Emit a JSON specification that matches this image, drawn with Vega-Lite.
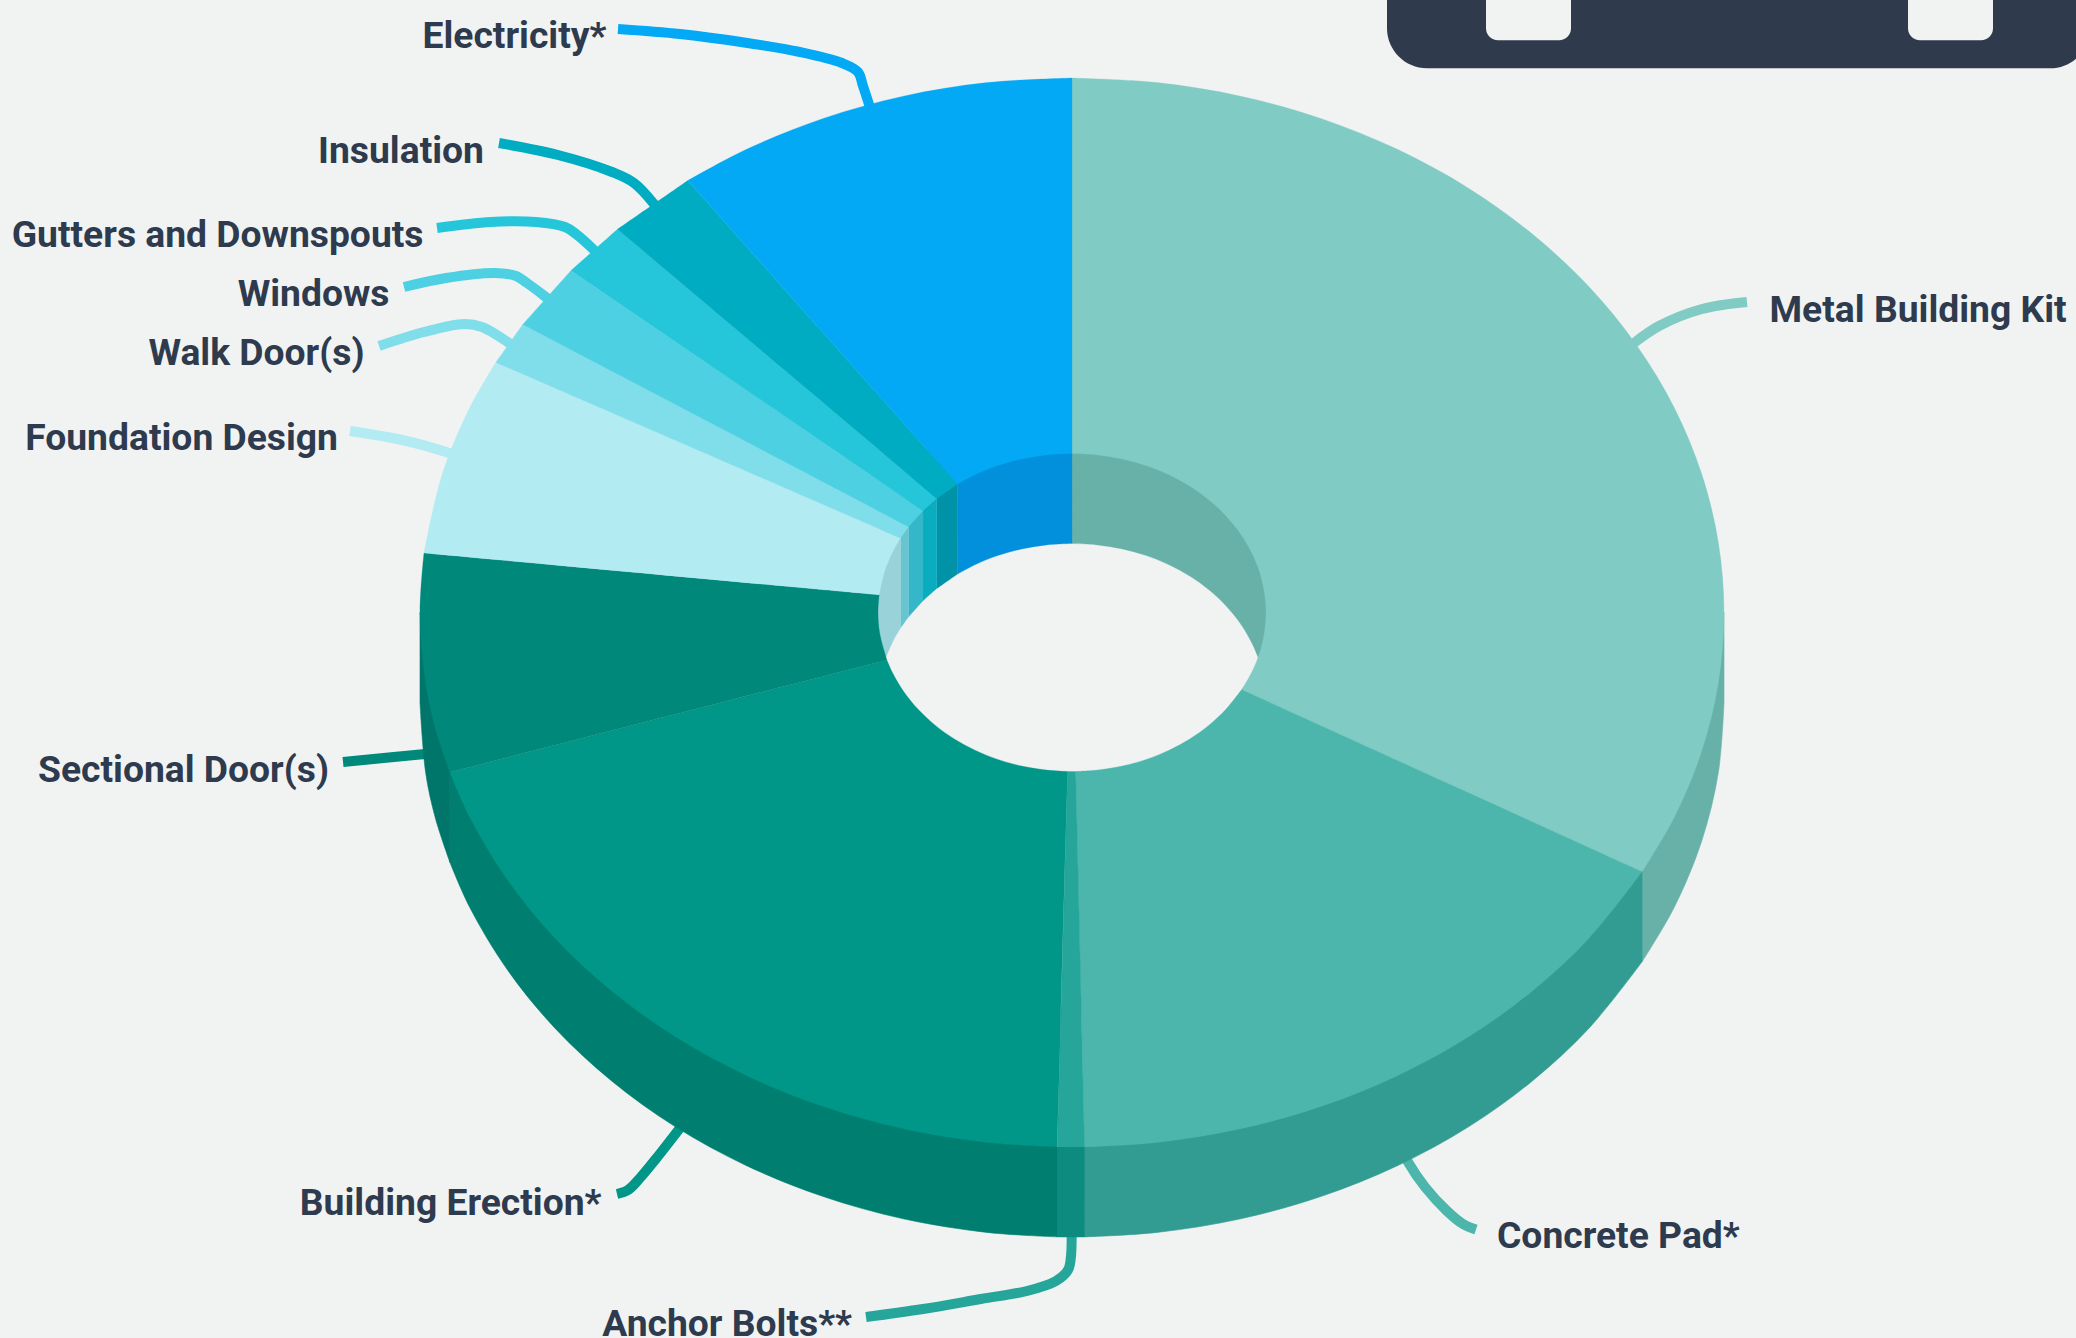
{"$schema":"https://vega.github.io/schema/vega-lite/v6.json","width":2076,"height":1338,"padding":0,"autosize":{"type":"none"},"background":"#f1f3f2","view":{"stroke":null},"config":{"view":{"stroke":null}},
"encoding":{"x":{"field":"x","type":"quantitative","axis":null,"scale":{"domain":[0,2076],"nice":false,"zero":false}},"y":{"field":"y","type":"quantitative","axis":null,"scale":{"domain":[0,1338],"reverse":true,"nice":false,"zero":false}}},
"resolve":{"scale":{"fill":"independent","stroke":"independent"}},
"layer":[
{"data":{"values":[{"part":"panel","x":1387,"x2":2090,"y":-60,"y2":68.3}]},"mark":{"type":"rect","clip":true,"color":"#2f3b4d","cornerRadiusBottomLeft":40,"cornerRadiusBottomRight":40},"encoding":{"x2":{"field":"x2"},"y2":{"field":"y2"}}},
{"data":{"values":[{"part":"tab","x":1486,"x2":1571,"y":-40,"y2":40.3},{"part":"tab","x":1908,"x2":1993,"y":-40,"y2":40.3}]},"mark":{"type":"rect","clip":true,"color":"#f1f3f2","cornerRadiusBottomLeft":12,"cornerRadiusBottomRight":12},"encoding":{"x2":{"field":"x2"},"y2":{"field":"y2"}}},
{"data":{"values":[
{"s":"Metal Building Kit","i":1,"x":1747,"y":302},{"s":"Metal Building Kit","i":2,"x":1702,"y":309},{"s":"Metal Building Kit","i":3,"x":1659,"y":326},{"s":"Metal Building Kit","i":4,"x":1634,"y":343},{"s":"Metal Building Kit","i":5,"x":1605,"y":368},
{"s":"Electricity*","i":1,"x":618,"y":29},{"s":"Electricity*","i":2,"x":680,"y":34},{"s":"Electricity*","i":3,"x":741,"y":42},{"s":"Electricity*","i":4,"x":800,"y":52},{"s":"Electricity*","i":5,"x":842,"y":63},{"s":"Electricity*","i":6,"x":858,"y":72},{"s":"Electricity*","i":7,"x":863,"y":86},{"s":"Electricity*","i":8,"x":874,"y":120},
{"s":"Insulation","i":1,"x":499,"y":143},{"s":"Insulation","i":2,"x":558,"y":155},{"s":"Insulation","i":3,"x":612,"y":172},{"s":"Insulation","i":4,"x":634,"y":183},{"s":"Insulation","i":5,"x":654,"y":204},{"s":"Insulation","i":6,"x":672,"y":230},
{"s":"Gutters and Downspouts","i":1,"x":437,"y":228},{"s":"Gutters and Downspouts","i":2,"x":491,"y":222},{"s":"Gutters and Downspouts","i":3,"x":536,"y":222},{"s":"Gutters and Downspouts","i":4,"x":565,"y":227},{"s":"Gutters and Downspouts","i":5,"x":576,"y":234},{"s":"Gutters and Downspouts","i":6,"x":594,"y":250},{"s":"Gutters and Downspouts","i":7,"x":615,"y":272},
{"s":"Windows","i":1,"x":404,"y":287},{"s":"Windows","i":2,"x":446,"y":278},{"s":"Windows","i":3,"x":495,"y":273},{"s":"Windows","i":4,"x":516,"y":276},{"s":"Windows","i":5,"x":527,"y":283},{"s":"Windows","i":6,"x":547,"y":298},{"s":"Windows","i":7,"x":570,"y":318},
{"s":"Walk Door(s)","i":1,"x":379,"y":346},{"s":"Walk Door(s)","i":2,"x":424,"y":332},{"s":"Walk Door(s)","i":3,"x":464,"y":324},{"s":"Walk Door(s)","i":4,"x":482,"y":327},{"s":"Walk Door(s)","i":5,"x":509,"y":343},{"s":"Walk Door(s)","i":6,"x":535,"y":362},
{"s":"Foundation Design","i":1,"x":350,"y":431},{"s":"Foundation Design","i":2,"x":402,"y":440},{"s":"Foundation Design","i":3,"x":449,"y":453},{"s":"Foundation Design","i":4,"x":490,"y":470},
{"s":"Sectional Door(s)","i":1,"x":343,"y":762},{"s":"Sectional Door(s)","i":2,"x":425,"y":754},{"s":"Sectional Door(s)","i":3,"x":470,"y":750},
{"s":"Building Erection*","i":1,"x":617,"y":1194},{"s":"Building Erection*","i":2,"x":628,"y":1190},{"s":"Building Erection*","i":3,"x":640,"y":1178},{"s":"Building Erection*","i":4,"x":655,"y":1160},{"s":"Building Erection*","i":5,"x":680,"y":1128},{"s":"Building Erection*","i":6,"x":705,"y":1095},
{"s":"Concrete Pad*","i":1,"x":1476,"y":1229.5},{"s":"Concrete Pad*","i":2,"x":1463,"y":1224},{"s":"Concrete Pad*","i":3,"x":1447,"y":1211},{"s":"Concrete Pad*","i":4,"x":1425,"y":1187},{"s":"Concrete Pad*","i":5,"x":1408,"y":1162},{"s":"Concrete Pad*","i":6,"x":1390,"y":1125},
{"s":"Anchor Bolts**","i":1,"x":866,"y":1317},{"s":"Anchor Bolts**","i":2,"x":923,"y":1309},{"s":"Anchor Bolts**","i":3,"x":981,"y":1299},{"s":"Anchor Bolts**","i":4,"x":1027,"y":1291},{"s":"Anchor Bolts**","i":5,"x":1056,"y":1281},{"s":"Anchor Bolts**","i":6,"x":1068,"y":1270},{"s":"Anchor Bolts**","i":7,"x":1071,"y":1256},{"s":"Anchor Bolts**","i":8,"x":1071,"y":1200}
]},"mark":{"type":"line","interpolate":"catmull-rom","strokeWidth":10,"strokeCap":"butt"},"encoding":{"order":{"field":"i","type":"quantitative"},"stroke":{"field":"s","type":"nominal","legend":null,"scale":{"domain":["Metal Building Kit","Concrete Pad*","Anchor Bolts**","Building Erection*","Sectional Door(s)","Foundation Design","Walk Door(s)","Windows","Gutters and Downspouts","Insulation","Electricity*"],"range":["#80cbc4","#4db6ac","#26a69a","#009688","#00897b","#b2ebf2","#80deea","#4dd0e1","#26c6da","#00acc1","#03a9f4"]}}}},
{"data":{"values":[
{"s":"Metal Building Kit","i":1,"x":1724,"y":612.5},{"s":"Metal Building Kit","i":2,"x":1724,"y":702.5},{"s":"Metal Building Kit","i":2.5,"x":1724,"y":702.5},{"s":"Metal Building Kit","i":3,"x":1718.4,"y":772.3},{"s":"Metal Building Kit","i":4,"x":1701.8,"y":840.8},{"s":"Metal Building Kit","i":5,"x":1674.4,"y":907.1},{"s":"Metal Building Kit","i":6,"x":1642.2,"y":961.6},{"s":"Metal Building Kit","i":6.5,"x":1642.2,"y":961.6},{"s":"Metal Building Kit","i":7,"x":1642.2,"y":871.6},{"s":"Metal Building Kit","i":7.5,"x":1642.2,"y":871.6},{"s":"Metal Building Kit","i":8,"x":1724,"y":612.5},
{"s":"Concrete Pad*","i":1,"x":1642.2,"y":871.6},{"s":"Concrete Pad*","i":2,"x":1642.2,"y":961.6},{"s":"Concrete Pad*","i":2.5,"x":1642.2,"y":961.6},{"s":"Concrete Pad*","i":3,"x":1589.3,"y":1027.9},{"s":"Concrete Pad*","i":4,"x":1533,"y":1080.4},{"s":"Concrete Pad*","i":5,"x":1468.9,"y":1126.6},{"s":"Concrete Pad*","i":6,"x":1398,"y":1165.4},{"s":"Concrete Pad*","i":7,"x":1321.5,"y":1196.3},{"s":"Concrete Pad*","i":8,"x":1240.7,"y":1218.8},{"s":"Concrete Pad*","i":9,"x":1157.1,"y":1232.4},{"s":"Concrete Pad*","i":10,"x":1084.5,"y":1236.9},{"s":"Concrete Pad*","i":10.5,"x":1084.5,"y":1236.9},{"s":"Concrete Pad*","i":11,"x":1084.5,"y":1146.9},{"s":"Concrete Pad*","i":11.5,"x":1084.5,"y":1146.9},{"s":"Concrete Pad*","i":12,"x":1642.2,"y":871.6},
{"s":"Anchor Bolts**","i":1,"x":1084.5,"y":1146.9},{"s":"Anchor Bolts**","i":2,"x":1084.5,"y":1236.9},{"s":"Anchor Bolts**","i":2.5,"x":1084.5,"y":1236.9},{"s":"Anchor Bolts**","i":3,"x":1057.2,"y":1236.9},{"s":"Anchor Bolts**","i":3.5,"x":1057.2,"y":1236.9},{"s":"Anchor Bolts**","i":4,"x":1057.2,"y":1146.9},{"s":"Anchor Bolts**","i":4.5,"x":1057.2,"y":1146.9},{"s":"Anchor Bolts**","i":5,"x":1084.5,"y":1146.9},
{"s":"Building Erection*","i":1,"x":1057.2,"y":1146.9},{"s":"Building Erection*","i":2,"x":1057.2,"y":1236.9},{"s":"Building Erection*","i":2.5,"x":1057.2,"y":1236.9},{"s":"Building Erection*","i":3,"x":986.9,"y":1232.4},{"s":"Building Erection*","i":4,"x":903.3,"y":1218.8},{"s":"Building Erection*","i":5,"x":822.5,"y":1196.3},{"s":"Building Erection*","i":6,"x":746,"y":1165.4},{"s":"Building Erection*","i":7,"x":675.1,"y":1126.6},{"s":"Building Erection*","i":8,"x":611,"y":1080.4},{"s":"Building Erection*","i":9,"x":554.7,"y":1027.9},{"s":"Building Erection*","i":10,"x":507.4,"y":969.8},{"s":"Building Erection*","i":11,"x":469.6,"y":907.1},{"s":"Building Erection*","i":12,"x":449.9,"y":862.3},{"s":"Building Erection*","i":12.5,"x":449.9,"y":862.3},{"s":"Building Erection*","i":13,"x":449.9,"y":772.3},{"s":"Building Erection*","i":13.5,"x":449.9,"y":772.3},{"s":"Building Erection*","i":14,"x":1057.2,"y":1146.9},
{"s":"Sectional Door(s)","i":1,"x":449.9,"y":772.3},{"s":"Sectional Door(s)","i":2,"x":449.9,"y":862.3},{"s":"Sectional Door(s)","i":2.5,"x":449.9,"y":862.3},{"s":"Sectional Door(s)","i":3,"x":435.4,"y":818.2},{"s":"Sectional Door(s)","i":4,"x":425.6,"y":772.3},{"s":"Sectional Door(s)","i":5,"x":420,"y":702.5},{"s":"Sectional Door(s)","i":5.5,"x":420,"y":702.5},{"s":"Sectional Door(s)","i":6,"x":420,"y":612.5},{"s":"Sectional Door(s)","i":6.5,"x":420,"y":612.5},{"s":"Sectional Door(s)","i":7,"x":449.9,"y":772.3}
]},"mark":{"type":"line","interpolate":"catmull-rom","strokeWidth":0.6},"encoding":{"order":{"field":"i","type":"quantitative"},"fill":{"field":"s","type":"nominal","legend":null,"scale":{"domain":["Metal Building Kit","Concrete Pad*","Anchor Bolts**","Building Erection*","Sectional Door(s)"],"range":["#67b1a9","#339c92","#0d8b7f","#007e6f","#00766a"]}},"stroke":{"field":"s","type":"nominal","legend":null,"scale":{"domain":["Metal Building Kit","Concrete Pad*","Anchor Bolts**","Building Erection*","Sectional Door(s)"],"range":["#67b1a9","#339c92","#0d8b7f","#007e6f","#00766a"]}}}},
{"data":{"values":[
{"s":"Metal Building Kit","i":1,"x":1072,"y":450},{"s":"Metal Building Kit","i":2,"x":1266,"y":450},{"s":"Metal Building Kit","i":2.5,"x":1266,"y":450},{"s":"Metal Building Kit","i":3,"x":1266,"y":702.5},{"s":"Metal Building Kit","i":3.5,"x":1266,"y":702.5},{"s":"Metal Building Kit","i":4,"x":1264.3,"y":681.8},{"s":"Metal Building Kit","i":5,"x":1259.4,"y":661.3},{"s":"Metal Building Kit","i":6,"x":1251.2,"y":641.7},{"s":"Metal Building Kit","i":7,"x":1240,"y":623},{"s":"Metal Building Kit","i":8,"x":1225.9,"y":605.7},{"s":"Metal Building Kit","i":9,"x":1209.2,"y":590.1},{"s":"Metal Building Kit","i":10,"x":1190.1,"y":576.3},{"s":"Metal Building Kit","i":11,"x":1169,"y":564.8},{"s":"Metal Building Kit","i":12,"x":1146.2,"y":555.6},{"s":"Metal Building Kit","i":13,"x":1122.2,"y":548.9},{"s":"Metal Building Kit","i":14,"x":1097.3,"y":544.9},{"s":"Metal Building Kit","i":15,"x":1072,"y":543.5},{"s":"Metal Building Kit","i":15.5,"x":1072,"y":543.5},{"s":"Metal Building Kit","i":16,"x":1072,"y":450},
{"s":"Electricity*","i":1,"x":957.7,"y":450},{"s":"Electricity*","i":2,"x":1072,"y":450},{"s":"Electricity*","i":2.5,"x":1072,"y":450},{"s":"Electricity*","i":3,"x":1072,"y":543.5},{"s":"Electricity*","i":3.5,"x":1072,"y":543.5},{"s":"Electricity*","i":4,"x":1046.7,"y":544.9},{"s":"Electricity*","i":5,"x":1021.8,"y":548.9},{"s":"Electricity*","i":6,"x":997.8,"y":555.6},{"s":"Electricity*","i":7,"x":975,"y":564.8},{"s":"Electricity*","i":8,"x":957.7,"y":574},{"s":"Electricity*","i":8.5,"x":957.7,"y":574},{"s":"Electricity*","i":9,"x":957.7,"y":450},
{"s":"Insulation","i":1,"x":936.7,"y":450},{"s":"Insulation","i":2,"x":957.7,"y":450},{"s":"Insulation","i":2.5,"x":957.7,"y":450},{"s":"Insulation","i":3,"x":957.7,"y":574},{"s":"Insulation","i":3.5,"x":957.7,"y":574},{"s":"Insulation","i":4,"x":936.7,"y":588.5},{"s":"Insulation","i":4.5,"x":936.7,"y":588.5},{"s":"Insulation","i":5,"x":936.7,"y":450},
{"s":"Gutters and Downspouts","i":1,"x":923,"y":450},{"s":"Gutters and Downspouts","i":2,"x":936.7,"y":450},{"s":"Gutters and Downspouts","i":2.5,"x":936.7,"y":450},{"s":"Gutters and Downspouts","i":3,"x":936.7,"y":588.5},{"s":"Gutters and Downspouts","i":3.5,"x":936.7,"y":588.5},{"s":"Gutters and Downspouts","i":4,"x":923,"y":600.7},{"s":"Gutters and Downspouts","i":4.5,"x":923,"y":600.7},{"s":"Gutters and Downspouts","i":5,"x":923,"y":450},
{"s":"Windows","i":1,"x":908.6,"y":450},{"s":"Windows","i":2,"x":923,"y":450},{"s":"Windows","i":2.5,"x":923,"y":450},{"s":"Windows","i":3,"x":923,"y":600.7},{"s":"Windows","i":3.5,"x":923,"y":600.7},{"s":"Windows","i":4,"x":908.6,"y":616.8},{"s":"Windows","i":4.5,"x":908.6,"y":616.8},{"s":"Windows","i":5,"x":908.6,"y":450},
{"s":"Walk Door(s)","i":1,"x":900.5,"y":450},{"s":"Walk Door(s)","i":2,"x":908.6,"y":450},{"s":"Walk Door(s)","i":2.5,"x":908.6,"y":450},{"s":"Walk Door(s)","i":3,"x":908.6,"y":616.8},{"s":"Walk Door(s)","i":3.5,"x":908.6,"y":616.8},{"s":"Walk Door(s)","i":4,"x":900.5,"y":628.1},{"s":"Walk Door(s)","i":4.5,"x":900.5,"y":628.1},{"s":"Walk Door(s)","i":5,"x":900.5,"y":450},
{"s":"Foundation Design","i":1,"x":878,"y":450},{"s":"Foundation Design","i":2,"x":900.5,"y":450},{"s":"Foundation Design","i":2.5,"x":900.5,"y":450},{"s":"Foundation Design","i":3,"x":900.5,"y":628.1},{"s":"Foundation Design","i":3.5,"x":900.5,"y":628.1},{"s":"Foundation Design","i":4,"x":892.8,"y":641.7},{"s":"Foundation Design","i":5,"x":884.6,"y":661.3},{"s":"Foundation Design","i":6,"x":879.2,"y":684.8},{"s":"Foundation Design","i":7,"x":878,"y":702.5},{"s":"Foundation Design","i":7.5,"x":878,"y":702.5},{"s":"Foundation Design","i":8,"x":878,"y":450}
]},"mark":{"type":"line","interpolate":"catmull-rom","strokeWidth":0.3},"encoding":{"order":{"field":"i","type":"quantitative"},"fill":{"field":"s","type":"nominal","legend":null,"scale":{"domain":["Metal Building Kit","Electricity*","Insulation","Gutters and Downspouts","Windows","Walk Door(s)","Foundation Design"],"range":["#67b1a9","#0290dc","#0093a7","#0aacc0","#34b7c8","#66c5d1","#99d2d9"]}},"stroke":{"field":"s","type":"nominal","legend":null,"scale":{"domain":["Metal Building Kit","Electricity*","Insulation","Gutters and Downspouts","Windows","Walk Door(s)","Foundation Design"],"range":["#67b1a9","#0290dc","#0093a7","#0aacc0","#34b7c8","#66c5d1","#99d2d9"]}}}},
{"data":{"values":[
{"s":"Metal Building Kit","i":1,"x":1072,"y":78},{"s":"Metal Building Kit","i":2,"x":1157.1,"y":82.6},{"s":"Metal Building Kit","i":3,"x":1240.7,"y":96.2},{"s":"Metal Building Kit","i":4,"x":1321.5,"y":118.7},{"s":"Metal Building Kit","i":5,"x":1398,"y":149.6},{"s":"Metal Building Kit","i":6,"x":1468.9,"y":188.4},{"s":"Metal Building Kit","i":7,"x":1533,"y":234.6},{"s":"Metal Building Kit","i":8,"x":1589.3,"y":287.1},{"s":"Metal Building Kit","i":9,"x":1636.6,"y":345.2},{"s":"Metal Building Kit","i":10,"x":1674.4,"y":407.9},{"s":"Metal Building Kit","i":11,"x":1701.8,"y":474.2},{"s":"Metal Building Kit","i":12,"x":1718.4,"y":542.7},{"s":"Metal Building Kit","i":13,"x":1724,"y":612.5},{"s":"Metal Building Kit","i":14,"x":1718.4,"y":682.3},{"s":"Metal Building Kit","i":15,"x":1701.8,"y":750.8},{"s":"Metal Building Kit","i":16,"x":1674.4,"y":817.1},{"s":"Metal Building Kit","i":17,"x":1642.2,"y":871.6},{"s":"Metal Building Kit","i":17.5,"x":1642.2,"y":871.6},{"s":"Metal Building Kit","i":18,"x":1241.7,"y":689.6},{"s":"Metal Building Kit","i":18.5,"x":1241.7,"y":689.6},{"s":"Metal Building Kit","i":19,"x":1251.2,"y":673.3},{"s":"Metal Building Kit","i":20,"x":1259.4,"y":653.7},{"s":"Metal Building Kit","i":21,"x":1264.3,"y":633.2},{"s":"Metal Building Kit","i":22,"x":1266,"y":612.5},{"s":"Metal Building Kit","i":23,"x":1264.3,"y":591.8},{"s":"Metal Building Kit","i":24,"x":1259.4,"y":571.3},{"s":"Metal Building Kit","i":25,"x":1251.2,"y":551.7},{"s":"Metal Building Kit","i":26,"x":1240,"y":533},{"s":"Metal Building Kit","i":27,"x":1225.9,"y":515.7},{"s":"Metal Building Kit","i":28,"x":1209.2,"y":500.1},{"s":"Metal Building Kit","i":29,"x":1190.1,"y":486.3},{"s":"Metal Building Kit","i":30,"x":1169,"y":474.8},{"s":"Metal Building Kit","i":31,"x":1146.2,"y":465.6},{"s":"Metal Building Kit","i":32,"x":1122.2,"y":458.9},{"s":"Metal Building Kit","i":33,"x":1097.3,"y":454.9},{"s":"Metal Building Kit","i":34,"x":1072,"y":453.5},{"s":"Metal Building Kit","i":34.5,"x":1072,"y":453.5},{"s":"Metal Building Kit","i":35,"x":1072,"y":78},
{"s":"Concrete Pad*","i":1,"x":1642.2,"y":871.6},{"s":"Concrete Pad*","i":2,"x":1589.3,"y":937.9},{"s":"Concrete Pad*","i":3,"x":1533,"y":990.4},{"s":"Concrete Pad*","i":4,"x":1468.9,"y":1036.6},{"s":"Concrete Pad*","i":5,"x":1398,"y":1075.4},{"s":"Concrete Pad*","i":6,"x":1321.5,"y":1106.3},{"s":"Concrete Pad*","i":7,"x":1240.7,"y":1128.8},{"s":"Concrete Pad*","i":8,"x":1157.1,"y":1142.4},{"s":"Concrete Pad*","i":9,"x":1084.5,"y":1146.9},{"s":"Concrete Pad*","i":9.5,"x":1084.5,"y":1146.9},{"s":"Concrete Pad*","i":10,"x":1075.7,"y":771.5},{"s":"Concrete Pad*","i":10.5,"x":1075.7,"y":771.5},{"s":"Concrete Pad*","i":11,"x":1097.3,"y":770.1},{"s":"Concrete Pad*","i":12,"x":1122.2,"y":766.1},{"s":"Concrete Pad*","i":13,"x":1146.2,"y":759.4},{"s":"Concrete Pad*","i":14,"x":1169,"y":750.2},{"s":"Concrete Pad*","i":15,"x":1190.1,"y":738.7},{"s":"Concrete Pad*","i":16,"x":1209.2,"y":724.9},{"s":"Concrete Pad*","i":17,"x":1225.9,"y":709.3},{"s":"Concrete Pad*","i":18,"x":1241.7,"y":689.6},{"s":"Concrete Pad*","i":18.5,"x":1241.7,"y":689.6},{"s":"Concrete Pad*","i":19,"x":1642.2,"y":871.6},
{"s":"Anchor Bolts**","i":1,"x":1084.5,"y":1146.9},{"s":"Anchor Bolts**","i":2,"x":1057.2,"y":1146.9},{"s":"Anchor Bolts**","i":2.5,"x":1057.2,"y":1146.9},{"s":"Anchor Bolts**","i":3,"x":1067.6,"y":771.5},{"s":"Anchor Bolts**","i":3.5,"x":1067.6,"y":771.5},{"s":"Anchor Bolts**","i":4,"x":1075.7,"y":771.5},{"s":"Anchor Bolts**","i":4.5,"x":1075.7,"y":771.5},{"s":"Anchor Bolts**","i":5,"x":1084.5,"y":1146.9},
{"s":"Building Erection*","i":1,"x":1057.2,"y":1146.9},{"s":"Building Erection*","i":2,"x":986.9,"y":1142.4},{"s":"Building Erection*","i":3,"x":903.3,"y":1128.8},{"s":"Building Erection*","i":4,"x":822.5,"y":1106.3},{"s":"Building Erection*","i":5,"x":746,"y":1075.4},{"s":"Building Erection*","i":6,"x":675.1,"y":1036.6},{"s":"Building Erection*","i":7,"x":611,"y":990.4},{"s":"Building Erection*","i":8,"x":554.7,"y":937.9},{"s":"Building Erection*","i":9,"x":507.4,"y":879.8},{"s":"Building Erection*","i":10,"x":469.6,"y":817.1},{"s":"Building Erection*","i":11,"x":449.9,"y":772.3},{"s":"Building Erection*","i":11.5,"x":449.9,"y":772.3},{"s":"Building Erection*","i":12,"x":886.9,"y":660},{"s":"Building Erection*","i":12.5,"x":886.9,"y":660},{"s":"Building Erection*","i":13,"x":892.8,"y":673.3},{"s":"Building Erection*","i":14,"x":904,"y":692},{"s":"Building Erection*","i":15,"x":918.1,"y":709.3},{"s":"Building Erection*","i":16,"x":934.8,"y":724.9},{"s":"Building Erection*","i":17,"x":953.9,"y":738.7},{"s":"Building Erection*","i":18,"x":975,"y":750.2},{"s":"Building Erection*","i":19,"x":997.8,"y":759.4},{"s":"Building Erection*","i":20,"x":1021.8,"y":766.1},{"s":"Building Erection*","i":21,"x":1046.7,"y":770.1},{"s":"Building Erection*","i":22,"x":1067.6,"y":771.5},{"s":"Building Erection*","i":22.5,"x":1067.6,"y":771.5},{"s":"Building Erection*","i":23,"x":1057.2,"y":1146.9},
{"s":"Sectional Door(s)","i":1,"x":449.9,"y":772.3},{"s":"Sectional Door(s)","i":2,"x":435.4,"y":728.2},{"s":"Sectional Door(s)","i":3,"x":425.6,"y":682.3},{"s":"Sectional Door(s)","i":4,"x":420,"y":612.5},{"s":"Sectional Door(s)","i":5,"x":424,"y":552.9},{"s":"Sectional Door(s)","i":5.5,"x":424,"y":552.9},{"s":"Sectional Door(s)","i":6,"x":879.2,"y":594.8},{"s":"Sectional Door(s)","i":6.5,"x":879.2,"y":594.8},{"s":"Sectional Door(s)","i":7,"x":878,"y":612.5},{"s":"Sectional Door(s)","i":8,"x":879.7,"y":633.2},{"s":"Sectional Door(s)","i":9,"x":886.9,"y":660},{"s":"Sectional Door(s)","i":9.5,"x":886.9,"y":660},{"s":"Sectional Door(s)","i":10,"x":449.9,"y":772.3},
{"s":"Foundation Design","i":1,"x":424,"y":552.9},{"s":"Foundation Design","i":2,"x":442.2,"y":474.2},{"s":"Foundation Design","i":3,"x":469.6,"y":407.9},{"s":"Foundation Design","i":4,"x":495.8,"y":362.4},{"s":"Foundation Design","i":4.5,"x":495.8,"y":362.4},{"s":"Foundation Design","i":5,"x":900.5,"y":538.1},{"s":"Foundation Design","i":5.5,"x":900.5,"y":538.1},{"s":"Foundation Design","i":6,"x":892.8,"y":551.7},{"s":"Foundation Design","i":7,"x":884.6,"y":571.3},{"s":"Foundation Design","i":8,"x":879.2,"y":594.8},{"s":"Foundation Design","i":8.5,"x":879.2,"y":594.8},{"s":"Foundation Design","i":9,"x":424,"y":552.9},
{"s":"Walk Door(s)","i":1,"x":495.8,"y":362.4},{"s":"Walk Door(s)","i":2,"x":522.7,"y":324.5},{"s":"Walk Door(s)","i":2.5,"x":522.7,"y":324.5},{"s":"Walk Door(s)","i":3,"x":908.6,"y":526.8},{"s":"Walk Door(s)","i":3.5,"x":908.6,"y":526.8},{"s":"Walk Door(s)","i":4,"x":900.5,"y":538.1},{"s":"Walk Door(s)","i":4.5,"x":900.5,"y":538.1},{"s":"Walk Door(s)","i":5,"x":495.8,"y":362.4},
{"s":"Windows","i":1,"x":522.7,"y":324.5},{"s":"Windows","i":2,"x":571.1,"y":270.4},{"s":"Windows","i":2.5,"x":571.1,"y":270.4},{"s":"Windows","i":3,"x":923,"y":510.7},{"s":"Windows","i":3.5,"x":923,"y":510.7},{"s":"Windows","i":4,"x":908.6,"y":526.8},{"s":"Windows","i":4.5,"x":908.6,"y":526.8},{"s":"Windows","i":5,"x":522.7,"y":324.5},
{"s":"Gutters and Downspouts","i":1,"x":571.1,"y":270.4},{"s":"Gutters and Downspouts","i":2,"x":617.4,"y":229.3},{"s":"Gutters and Downspouts","i":2.5,"x":617.4,"y":229.3},{"s":"Gutters and Downspouts","i":3,"x":936.7,"y":498.5},{"s":"Gutters and Downspouts","i":3.5,"x":936.7,"y":498.5},{"s":"Gutters and Downspouts","i":4,"x":923,"y":510.7},{"s":"Gutters and Downspouts","i":4.5,"x":923,"y":510.7},{"s":"Gutters and Downspouts","i":5,"x":571.1,"y":270.4},
{"s":"Insulation","i":1,"x":617.4,"y":229.3},{"s":"Insulation","i":2,"x":687.8,"y":180.6},{"s":"Insulation","i":2.5,"x":687.8,"y":180.6},{"s":"Insulation","i":3,"x":957.7,"y":484},{"s":"Insulation","i":3.5,"x":957.7,"y":484},{"s":"Insulation","i":4,"x":936.7,"y":498.5},{"s":"Insulation","i":4.5,"x":936.7,"y":498.5},{"s":"Insulation","i":5,"x":617.4,"y":229.3},
{"s":"Electricity*","i":1,"x":687.8,"y":180.6},{"s":"Electricity*","i":2,"x":746,"y":149.6},{"s":"Electricity*","i":3,"x":822.5,"y":118.7},{"s":"Electricity*","i":4,"x":903.3,"y":96.2},{"s":"Electricity*","i":5,"x":986.9,"y":82.6},{"s":"Electricity*","i":6,"x":1072,"y":78},{"s":"Electricity*","i":6.5,"x":1072,"y":78},{"s":"Electricity*","i":7,"x":1072,"y":453.5},{"s":"Electricity*","i":7.5,"x":1072,"y":453.5},{"s":"Electricity*","i":8,"x":1046.7,"y":454.9},{"s":"Electricity*","i":9,"x":1021.8,"y":458.9},{"s":"Electricity*","i":10,"x":997.8,"y":465.6},{"s":"Electricity*","i":11,"x":975,"y":474.8},{"s":"Electricity*","i":12,"x":957.7,"y":484},{"s":"Electricity*","i":12.5,"x":957.7,"y":484},{"s":"Electricity*","i":13,"x":687.8,"y":180.6}
]},"mark":{"type":"line","interpolate":"catmull-rom","strokeWidth":0.3},"encoding":{"order":{"field":"i","type":"quantitative"},"fill":{"field":"s","type":"nominal","legend":null,"scale":{"domain":["Metal Building Kit","Concrete Pad*","Anchor Bolts**","Building Erection*","Sectional Door(s)","Foundation Design","Walk Door(s)","Windows","Gutters and Downspouts","Insulation","Electricity*"],"range":["#80cbc4","#4db6ac","#26a69a","#009688","#00897b","#b2ebf2","#80deea","#4dd0e1","#26c6da","#00acc1","#03a9f4"]}},"stroke":{"field":"s","type":"nominal","legend":null,"scale":{"domain":["Metal Building Kit","Concrete Pad*","Anchor Bolts**","Building Erection*","Sectional Door(s)","Foundation Design","Walk Door(s)","Windows","Gutters and Downspouts","Insulation","Electricity*"],"range":["#80cbc4","#4db6ac","#26a69a","#009688","#00897b","#b2ebf2","#80deea","#4dd0e1","#26c6da","#00acc1","#03a9f4"]}}}},
{"data":{"values":[{"label":"Electricity*","x":606.5,"y":47.5},{"label":"Insulation","x":484,"y":162.5},{"label":"Gutters and Downspouts","x":423.5,"y":247},{"label":"Windows","x":389.5,"y":306},{"label":"Walk Door(s)","x":364.5,"y":365},{"label":"Foundation Design","x":338,"y":450},{"label":"Sectional Door(s)","x":329,"y":781.5},{"label":"Building Erection*","x":601.5,"y":1214.5},{"label":"Anchor Bolts**","x":852,"y":1336}]},"mark":{"type":"text","font":"Roboto","fontSize":37.25,"fontWeight":700,"align":"right","baseline":"alphabetic","color":"#2e3a4d"},"encoding":{"text":{"field":"label"}}},
{"data":{"values":[{"label":"Metal Building Kit","x":1769.5,"y":322},{"label":"Concrete Pad*","x":1497,"y":1247.5}]},"mark":{"type":"text","font":"Roboto","fontSize":37.25,"fontWeight":700,"align":"left","baseline":"alphabetic","color":"#2e3a4d"},"encoding":{"text":{"field":"label"}}}
]}
